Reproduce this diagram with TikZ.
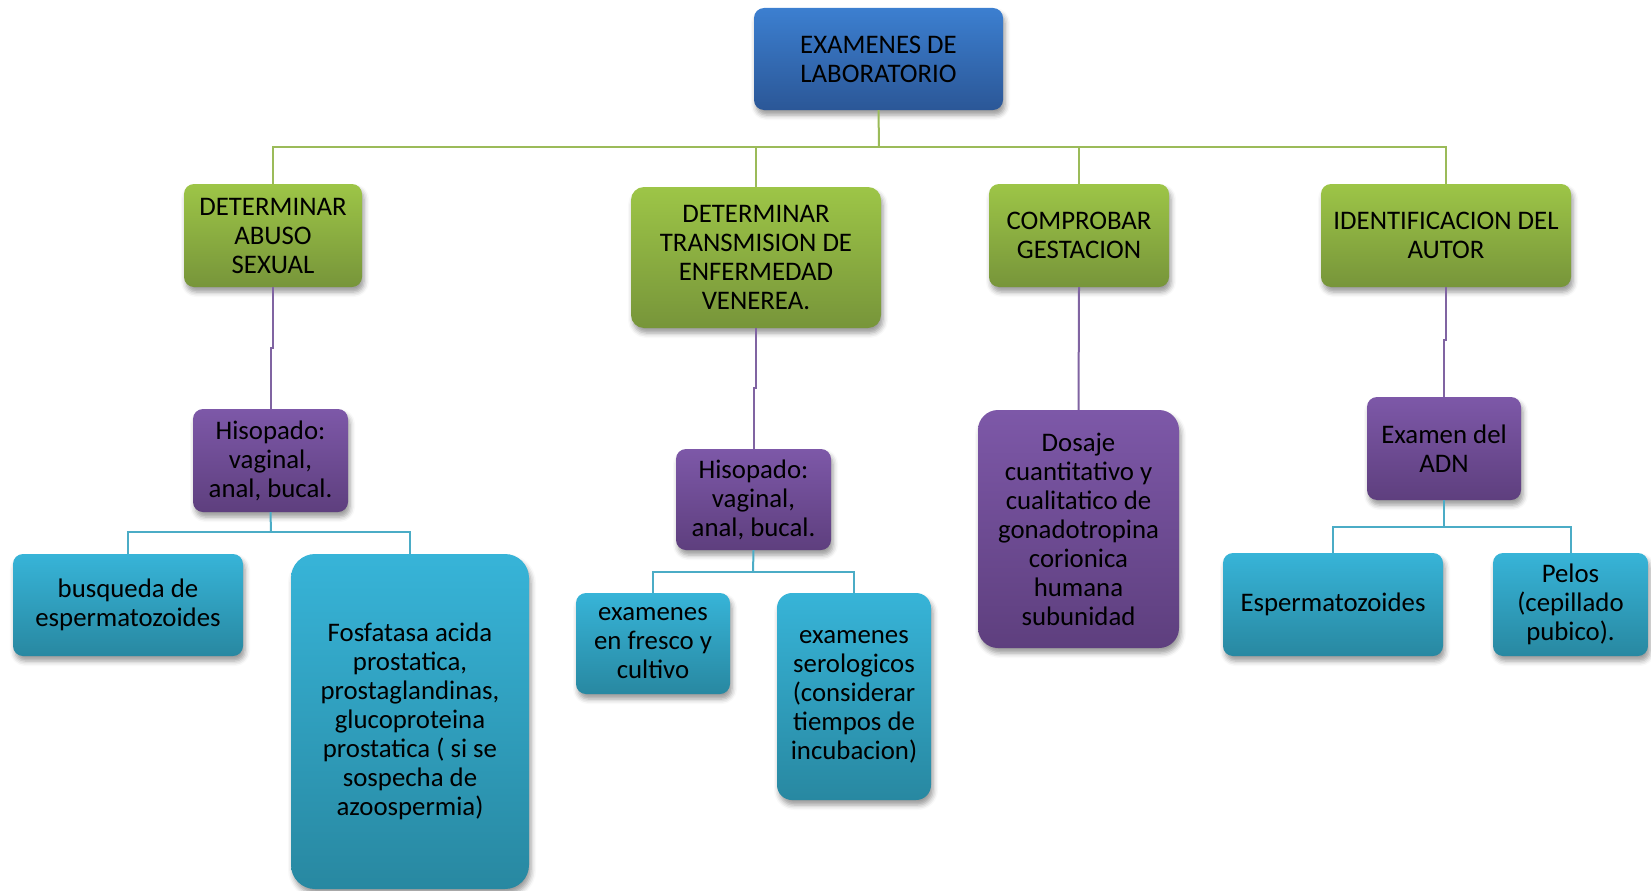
\documentclass[tikz,border=0pt]{standalone}
\usepackage{fontspec}
\setmainfont{Carlito}
\usetikzlibrary{shadows.blur}
\definecolor{bluetop}{HTML}{3C7FD0}
\definecolor{bluebot}{HTML}{2B5797}
\definecolor{greentop}{HTML}{9DC547}
\definecolor{greenbot}{HTML}{77953A}
\definecolor{purptop}{HTML}{7D58A8}
\definecolor{purpbot}{HTML}{5E3F7E}
\definecolor{aquatop}{HTML}{37B4D8}
\definecolor{aquabot}{HTML}{2888A1}
\definecolor{gline}{HTML}{9BBB59}
\definecolor{pline}{HTML}{8064A2}
\definecolor{aline}{HTML}{4BACC6}
\tikzset{
  boxbase/.style={inner sep=0pt, align=center, text=black,
    font=\fontsize{26.8}{29}\selectfont,
    blur shadow={shadow xshift=2pt, shadow yshift=-5pt, shadow blur radius=5pt, shadow opacity=40}},
  bluebox/.style={boxbase, top color=bluetop, bottom color=bluebot},
  greenbox/.style={boxbase, top color=greentop, bottom color=greenbot},
  purpbox/.style={boxbase, top color=purptop, bottom color=purpbot},
  aquabox/.style={boxbase, top color=aquatop, bottom color=aquabot},
  glink/.style={draw=gline, line width=2pt},
  plink/.style={draw=pline, line width=2pt},
  alink/.style={draw=aline, line width=2pt},
}
\newcommand{\mybox}[8]{% style, name, x1, x2, y1, y2, radius, text
  \node[#1, minimum width={#4-#3}, minimum height={#6-#5}, rounded corners=#7]
    (#2) at ({(#3+#4)/2},{(#5+#6)/2}) {#8};}
\begin{document}
\begin{tikzpicture}[x=1pt,y=-1pt]
\useasboundingbox (0,0) rectangle (1651,891);
% boxes
\mybox{bluebox}{root}{754}{1003}{8}{110}{10pt}{EXAMENES DE\\LABORATORIO}
\mybox{greenbox}{abuso}{184}{362}{184}{287}{10pt}{DETERMINAR\\ABUSO\\SEXUAL}
\mybox{greenbox}{trans}{631}{881}{187}{328}{13pt}{DETERMINAR\\TRANSMISION DE\\ENFERMEDAD\\VENEREA.}
\mybox{greenbox}{comp}{989}{1169}{184}{287}{10pt}{COMPROBAR\\GESTACION}
\mybox{greenbox}{ident}{1321}{1571}{184}{287}{10pt}{IDENTIFICACION DEL\\AUTOR}
\mybox{purpbox}{hisa}{193}{348}{409}{512}{10pt}{Hisopado:\\vaginal,\\anal, bucal.}
\mybox{purpbox}{hisb}{676}{831}{449}{550}{10pt}{Hisopado:\\vaginal,\\anal, bucal.}
\mybox{purpbox}{dosaje}{978}{1179}{410}{648}{20pt}{Dosaje\\cuantitativo y\\cualitatico de\\gonadotropina\\corionica\\humana\\subunidad}
\mybox{purpbox}{adn}{1367}{1521}{397}{500}{10pt}{Examen del\\ADN}
\mybox{aquabox}{busq}{13}{243}{554}{656}{10pt}{busqueda de\\espermatozoides}
\mybox{aquabox}{fosf}{291}{529}{554}{889}{24pt}{Fosfatasa acida\\prostatica,\\prostaglandinas,\\glucoproteina\\prostatica ( si se\\sospecha de\\azoospermia)}
\mybox{aquabox}{fres}{576}{730}{593}{694}{10pt}{examenes\\en fresco y\\cultivo}
\mybox{aquabox}{sero}{777}{931}{593}{800}{15pt}{examenes\\serologicos\\(considerar\\tiempos de\\incubacion)}
\mybox{aquabox}{esper}{1223}{1443}{553}{656}{10pt}{Espermatozoides}
\mybox{aquabox}{pelos}{1493}{1648}{553}{656}{10pt}{Pelos\\(cepillado\\pubico).}
% green connectors
\coordinate (gj) at (879,147);
\draw[glink] (root.south) -- (gj);
\draw[glink] (gj) -| (abuso.north);
\draw[glink] (gj) -| (trans.north);
\draw[glink] (gj) -| (comp.north);
\draw[glink] (gj) -| (ident.north);
% purple connectors
\coordinate (pj1) at (273,348);
\draw[plink] (abuso.south) -- (pj1) -| (hisa.north);
\coordinate (pj2) at (756,388);
\draw[plink] (trans.south) -- (pj2) -| (hisb.north);
\draw[plink] (comp.south) -- (dosaje.north);
\coordinate (pj3) at (1446,340);
\draw[plink] (ident.south) -- (pj3) -| (adn.north);
% aqua connectors
\coordinate (aj1) at (271,532);
\draw[alink] (hisa.south) -- (aj1);
\draw[alink] (aj1) -| (busq.north);
\draw[alink] (aj1) -| (fosf.north);
\coordinate (aj2) at (753,572);
\draw[alink] (hisb.south) -- (aj2);
\draw[alink] (aj2) -| (fres.north);
\draw[alink] (aj2) -| (sero.north);
\coordinate (aj3) at (1444,527);
\draw[alink] (adn.south) -- (aj3);
\draw[alink] (aj3) -| (esper.north);
\draw[alink] (aj3) -| (pelos.north);
\end{tikzpicture}
\end{document}
